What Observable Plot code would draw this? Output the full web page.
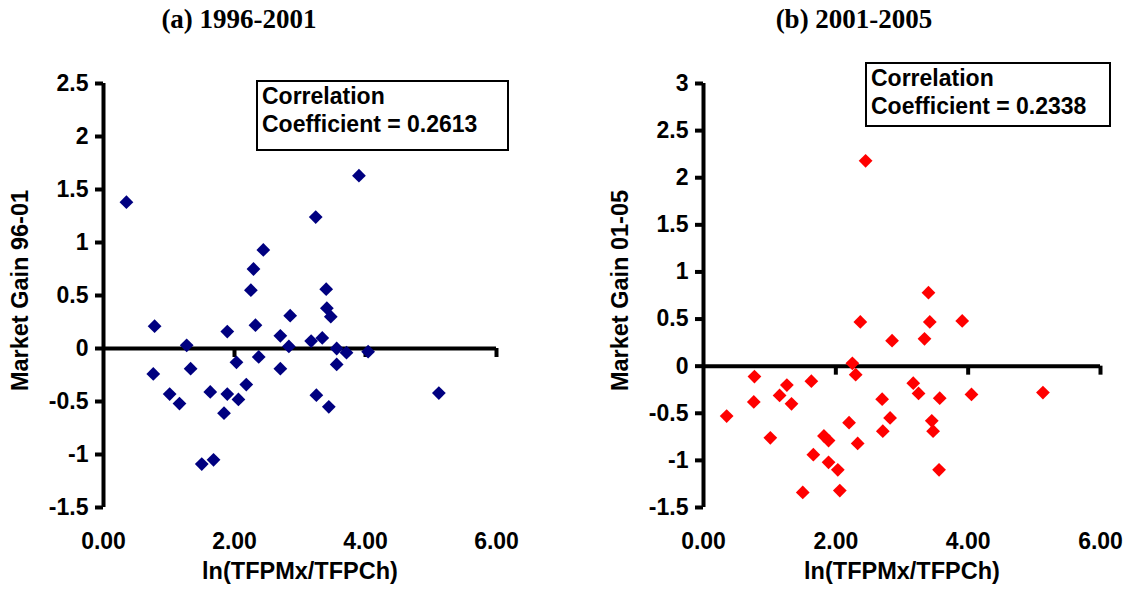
<!DOCTYPE html>
<html>
<head>
<meta charset="utf-8">
<script src="https://cdn.jsdelivr.net/npm/d3@7"></script>
<script src="https://cdn.jsdelivr.net/npm/@observablehq/plot@0.6"></script>
<style>
  html, body { margin: 0; padding: 0; background: white; }
  #wrap { position: relative; width: 1133px; height: 599px; overflow: hidden; background: white; }
  .panel { position: absolute; top: 0; }
  .title { position: absolute; top: 4px; font-family: "Liberation Serif", "Times New Roman", serif; font-weight: bold; font-size: 27px; transform: translateX(-50%); white-space: nowrap; }
  .box { position: absolute; border: 2px solid black; background: white; font-family: "Liberation Sans", Arial, sans-serif; font-weight: bold; font-size: 23px; line-height: 28px; padding: 0 4px; box-sizing: border-box; white-space: nowrap; }
</style>
</head>
<body>
<div id="wrap"></div>
<script>
// Panel (a) 1996-2001
const xA = [0.35, 0.76, 0.78, 1.01, 1.16, 1.27, 1.33, 1.50, 1.63, 1.68, 1.84, 1.89, 1.89, 2.03, 2.06, 2.18, 2.25, 2.29, 2.32, 2.37, 2.44, 2.70, 2.70, 2.83, 2.85, 3.17, 3.24, 3.25, 3.34, 3.40, 3.41, 3.44, 3.47, 3.56, 3.56, 3.71, 3.90, 4.04, 5.12];
const yA = [1.38, -0.24, 0.21, -0.43, -0.52, 0.03, -0.19, -1.09, -0.41, -1.05, -0.61, 0.16, -0.43, -0.13, -0.48, -0.34, 0.55, 0.75, 0.22, -0.08, 0.93, 0.12, -0.19, 0.02, 0.31, 0.07, 1.24, -0.44, 0.10, 0.56, 0.38, -0.55, 0.30, 0.00, -0.15, -0.04, 1.63, -0.03, -0.42];
// Panel (b) 2001-2005
const xB = [0.35, 0.76, 0.77, 1.01, 1.15, 1.26, 1.33, 1.50, 1.63, 1.66, 1.82, 1.89, 1.89, 2.03, 2.06, 2.20, 2.25, 2.30, 2.33, 2.37, 2.45, 2.70, 2.71, 2.82, 2.85, 3.17, 3.25, 3.34, 3.40, 3.42, 3.45, 3.47, 3.56, 3.57, 3.91, 4.05, 5.13];
const yB = [-0.53, -0.38, -0.11, -0.76, -0.31, -0.20, -0.40, -1.34, -0.16, -0.94, -0.74, -0.79, -1.02, -1.10, -1.32, -0.60, 0.03, -0.09, -0.82, 0.47, 2.18, -0.35, -0.69, -0.55, 0.27, -0.18, -0.29, 0.29, 0.78, 0.47, -0.58, -0.69, -1.10, -0.34, 0.48, -0.30, -0.28];

const xTicks = [0, 2, 4, 6];
const yTicksA = [-1.5, -1, -0.5, 0, 0.5, 1, 1.5, 2, 2.5];
const yTicksB = [-1.5, -1, -0.5, 0, 0.5, 1, 1.5, 2, 2.5, 3];
const xLabel = "ln(TFPMx/TFPCh)";
const yLabelA = "Market Gain 96-01";
const yLabelB = "Market Gain 01-05";
const titleA = "(a) 1996-2001";
const titleB = "(b) 2001-2005";
const corrA = 0.2613;
const corrB = 0.2338;

const FONT = "'Liberation Sans', Arial, sans-serif";

function panel({xs, ys, color, yTicks, yLabel, width, plotW}) {
  const data = xs.map((x, i) => ({x, y: ys[i]}));
  const yDomain = [yTicks[0], yTicks[yTicks.length - 1]];
  return Plot.plot({
    width,
    height: 599,
    marginLeft: 103,
    marginRight: width - 103 - plotW,
    marginTop: 83,
    marginBottom: 92,
    x: {domain: [0, 6]},
    y: {domain: yDomain},
    style: {fontFamily: FONT, fontWeight: "bold", fontSize: "23px", color: "black", background: "white", overflow: "visible"},
    marks: [
      Plot.axisY(yTicks, {tickSize: 0, tickPadding: 15, fontSize: 23, fontWeight: "bold", label: null, tickFormat: d => String(d)}),
      Plot.axisX(xTicks, {tickSize: 0, tickPadding: 25, fontSize: 23, fontWeight: "bold", label: null, tickFormat: d => d.toFixed(2)}),
      Plot.ruleY(yTicks, {x1: 0, x2: 0, insetLeft: -8, stroke: "black", strokeWidth: 4}),
      Plot.ruleX([0], {stroke: "black", strokeWidth: 4}),
      Plot.ruleY([0], {stroke: "black", strokeWidth: 4}),
      Plot.ruleX(xTicks.filter(d => d > 0), {y1: 0, y2: 0, insetBottom: -9, stroke: "black", strokeWidth: 4}),
      Plot.dot(data, {x: "x", y: "y", symbol: "diamond2", r: 6.2, fill: color, stroke: "none"}),
      Plot.text([yLabel], {text: d => d, frameAnchor: "left", textAnchor: "middle", dx: -83, dy: -5, rotate: -90, fontSize: 23.5, fontWeight: "bold", fill: "black"}),
      Plot.text([xLabel], {text: d => d, frameAnchor: "bottom", textAnchor: "middle", dy: 71, fontSize: 23.5, fontWeight: "bold", fill: "black"})
    ]
  });
}

const wrap = document.getElementById("wrap");

function addPanel(svg, left) {
  const d = document.createElement("div");
  d.className = "panel";
  d.style.left = left + "px";
  d.appendChild(svg);
  wrap.appendChild(d);
}

addPanel(panel({xs: xA, ys: yA, color: "#000080", yTicks: yTicksA, yLabel: yLabelA, width: 600, plotW: 393}), 0);
addPanel(panel({xs: xB, ys: yB, color: "#ff0000", yTicks: yTicksB, yLabel: yLabelB, width: 533, plotW: 397}), 600);

function addTitle(text, cx) {
  const t = document.createElement("div");
  t.className = "title";
  t.style.left = cx + "px";
  t.textContent = text;
  wrap.appendChild(t);
}
addTitle(titleA, 239);
addTitle(titleB, 854);

function addBox(value, left, top, w, h) {
  const b = document.createElement("div");
  b.className = "box";
  b.style.left = left + "px";
  b.style.top = top + "px";
  b.style.width = w + "px";
  b.style.height = h + "px";
  b.innerHTML = "Correlation<br>Coefficient = " + value.toFixed(4);
  wrap.appendChild(b);
}
addBox(corrA, 256, 80, 253, 71);
addBox(corrB, 865, 62, 246, 65);
</script>
</body>
</html>
